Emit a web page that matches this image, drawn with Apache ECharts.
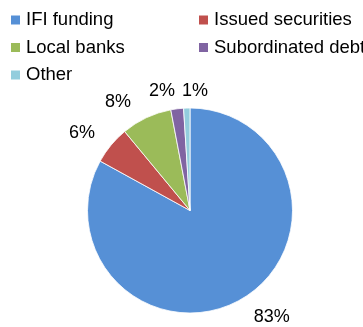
<!DOCTYPE html>
<html>
<head>
<meta charset="utf-8">
<script src="https://cdn.jsdelivr.net/npm/echarts@6/dist/echarts.min.js"></script>
<style>html,body{margin:0;padding:0;background:#fff}#c{width:363px;height:327px}</style>
</head>
<body>
<div id="c"></div>
<script>
// ---- data ----
const categories = ['IFI funding', 'Issued securities', 'Local banks', 'Subordinated debt', 'Other'];
const values = [83, 6, 8, 2, 1];
const colors = ['#5690d6', '#c0504d', '#9bbb59', '#8064a2', '#93cddd'];

// ---- layout / style ----
const CX = 190, CY = 210.5, R = 102.5;
const labelAngleShift = [-7, -3.9, -8.4, -6, 4.2]; // degrees from slice middle
const labelDist = [134, 133, 130, 123, 120];       // label centre distance from pie centre
const FONT = 'Liberation Sans, Arial, sans-serif';

const total = values.reduce((a, b) => a + b, 0);
function midAngle(i) {
  let s = 0;
  for (let k = 0; k < i; k++) s += values[k];
  return (s + values[i] / 2) / total * 360;
}

const chart = echarts.init(document.getElementById('c'), null, { renderer: 'canvas' });
const legendText = { fontFamily: FONT, fontSize: 18.5, color: '#000', lineHeight: 18 };
const legendBase = { orient: 'vertical', top: 5.5, padding: 5, icon: 'rect', itemWidth: 11, itemHeight: 11,
  itemGap: 8.5, itemTextGap: 3, textStyle: legendText, selectedMode: false };
chart.setOption({
  animation: false,
  color: colors,
  legend: [
    Object.assign({ data: [categories[0], categories[2], categories[4]], left: 4 }, legendBase),
    Object.assign({ data: [categories[1], categories[3]], left: 192 }, legendBase)
  ],
  series: [{
    type: 'pie',
    center: [CX, CY],
    radius: [0, R],
    startAngle: 90,
    clockwise: true,
    avoidLabelOverlap: false,
    percentPrecision: 0,
    itemStyle: { borderColor: '#fff', borderWidth: 0.8 },
    label: { show: true, position: 'outside', formatter: '{d}%', fontFamily: FONT, fontSize: 18, color: '#000' },
    labelLine: { show: false, length: 10, length2: 0 },
    labelLayout: function (p) {
      const i = p.dataIndex;
      const a = (midAngle(i) + labelAngleShift[i]) * Math.PI / 180;
      return {
        x: CX + labelDist[i] * Math.sin(a),
        y: CY - labelDist[i] * Math.cos(a),
        align: 'center',
        verticalAlign: 'middle'
      };
    },
    emphasis: { disabled: true },
    data: categories.map((n, i) => ({ name: n, value: values[i] }))
  }]
});
</script>
</body>
</html>
